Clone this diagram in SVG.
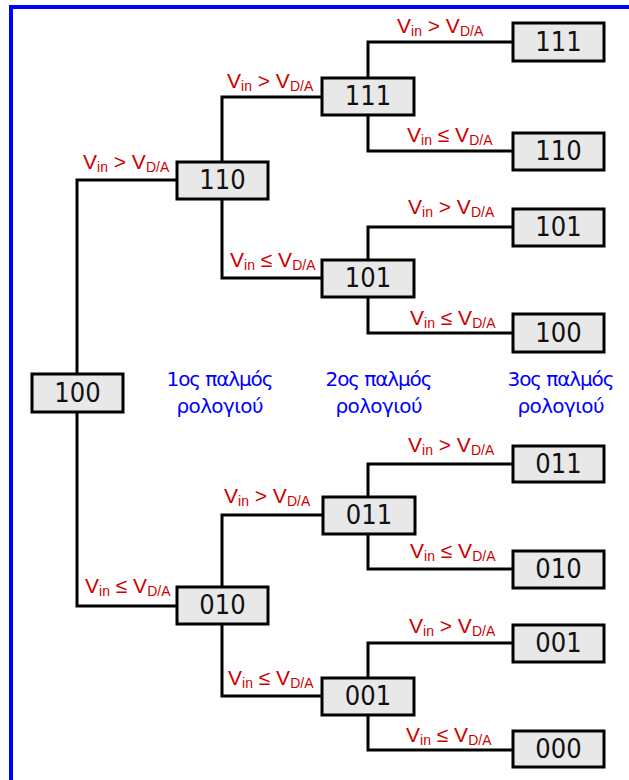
<svg xmlns="http://www.w3.org/2000/svg" width="629" height="780" viewBox="0 0 629 780">
<style>
.frame{fill:none;stroke:#0000ff;stroke-width:4}
.wire{fill:none;stroke:#000;stroke-width:3;stroke-linejoin:miter}
.box{fill:#e8e8e8;stroke:#000;stroke-width:3}
.num{font-family:"DejaVu Sans Condensed","DejaVu Sans","Liberation Sans",sans-serif;font-size:27px;fill:#111;text-anchor:middle}
.lbl{font-family:"Liberation Sans",Arial,sans-serif;font-size:21px;fill:#cc0000}
.sub{font-size:14px}
.clk{font-family:"DejaVu Sans","Liberation Sans",sans-serif;font-size:20px;fill:#0000ff;text-anchor:middle}
</style>
<rect width="629" height="780" fill="#fff"/>
<path class="frame" d="M11,782 V7 H631"/>
<g id="connectors">
<path class="wire" d="M177,180 H77 V606 H177"/>
<path class="wire" d="M322,97 H222 V278 H322"/>
<path class="wire" d="M322,515 H222 V696 H322"/>
<path class="wire" d="M513,42 H368 V151 H513"/>
<path class="wire" d="M513,227 H368 V333 H513"/>
<path class="wire" d="M513,464 H368 V569 H513"/>
<path class="wire" d="M513,643 H368 V750 H513"/>
</g>
<g id="labels">
<text class="lbl" x="83" y="169">V<tspan class="sub" dy="3">in</tspan><tspan dy="-3"> &gt; V</tspan><tspan class="sub" dy="3">D/A</tspan></text>
<text class="lbl" x="227" y="88">V<tspan class="sub" dy="3">in</tspan><tspan dy="-3"> &gt; V</tspan><tspan class="sub" dy="3">D/A</tspan></text>
<text class="lbl" x="397" y="33">V<tspan class="sub" dy="3">in</tspan><tspan dy="-3"> &gt; V</tspan><tspan class="sub" dy="3">D/A</tspan></text>
<text class="lbl" x="407" y="142">V<tspan class="sub" dy="3">in</tspan><tspan dy="-3"> ≤ V</tspan><tspan class="sub" dy="3">D/A</tspan></text>
<text class="lbl" x="230" y="267">V<tspan class="sub" dy="3">in</tspan><tspan dy="-3"> ≤ V</tspan><tspan class="sub" dy="3">D/A</tspan></text>
<text class="lbl" x="408" y="214">V<tspan class="sub" dy="3">in</tspan><tspan dy="-3"> &gt; V</tspan><tspan class="sub" dy="3">D/A</tspan></text>
<text class="lbl" x="410" y="325">V<tspan class="sub" dy="3">in</tspan><tspan dy="-3"> ≤ V</tspan><tspan class="sub" dy="3">D/A</tspan></text>
<text class="lbl" x="408" y="452">V<tspan class="sub" dy="3">in</tspan><tspan dy="-3"> &gt; V</tspan><tspan class="sub" dy="3">D/A</tspan></text>
<text class="lbl" x="224" y="503">V<tspan class="sub" dy="3">in</tspan><tspan dy="-3"> &gt; V</tspan><tspan class="sub" dy="3">D/A</tspan></text>
<text class="lbl" x="410" y="558">V<tspan class="sub" dy="3">in</tspan><tspan dy="-3"> ≤ V</tspan><tspan class="sub" dy="3">D/A</tspan></text>
<text class="lbl" x="85" y="593">V<tspan class="sub" dy="3">in</tspan><tspan dy="-3"> ≤ V</tspan><tspan class="sub" dy="3">D/A</tspan></text>
<text class="lbl" x="409" y="633">V<tspan class="sub" dy="3">in</tspan><tspan dy="-3"> &gt; V</tspan><tspan class="sub" dy="3">D/A</tspan></text>
<text class="lbl" x="228" y="685">V<tspan class="sub" dy="3">in</tspan><tspan dy="-3"> ≤ V</tspan><tspan class="sub" dy="3">D/A</tspan></text>
<text class="lbl" x="406" y="742">V<tspan class="sub" dy="3">in</tspan><tspan dy="-3"> ≤ V</tspan><tspan class="sub" dy="3">D/A</tspan></text>
</g>
<g id="clock-labels">
<text class="clk" x="220" y="386" textLength="107">1ος παλμός</text>
<text class="clk" x="220" y="413" textLength="87">ρολογιού</text>
<text class="clk" x="379" y="386" textLength="107">2ος παλμός</text>
<text class="clk" x="379" y="413" textLength="87">ρολογιού</text>
<text class="clk" x="561" y="386" textLength="107">3ος παλμός</text>
<text class="clk" x="561" y="413" textLength="87">ρολογιού</text>
</g>
<g id="n100"><rect class="box" x="32" y="374" width="91" height="38"/><text class="num" x="77.5" y="402">100</text></g>
<g id="n110"><rect class="box" x="177" y="162" width="91" height="37"/><text class="num" x="222.5" y="189">110</text></g>
<g id="n010"><rect class="box" x="177" y="587" width="91" height="37"/><text class="num" x="222.5" y="614">010</text></g>
<g id="n111b"><rect class="box" x="322" y="78" width="92" height="37"/><text class="num" x="368" y="105">111</text></g>
<g id="n101b"><rect class="box" x="322" y="260" width="92" height="37"/><text class="num" x="368" y="287">101</text></g>
<g id="n011b"><rect class="box" x="323" y="497" width="92" height="37"/><text class="num" x="369" y="524">011</text></g>
<g id="n001b"><rect class="box" x="322" y="678" width="92" height="37"/><text class="num" x="368" y="705">001</text></g>
<g id="leaf111"><rect class="box" x="513" y="23" width="91" height="38"/><text class="num" x="558.5" y="51">111</text></g>
<g id="leaf110"><rect class="box" x="513" y="133" width="91" height="37"/><text class="num" x="558.5" y="160">110</text></g>
<g id="leaf101"><rect class="box" x="513" y="209" width="91" height="37"/><text class="num" x="558.5" y="236">101</text></g>
<g id="leaf100"><rect class="box" x="513" y="314" width="91" height="38"/><text class="num" x="558.5" y="342">100</text></g>
<g id="leaf011"><rect class="box" x="513" y="446" width="91" height="36"/><text class="num" x="558.5" y="473">011</text></g>
<g id="leaf010"><rect class="box" x="513" y="551" width="91" height="37"/><text class="num" x="558.5" y="578">010</text></g>
<g id="leaf001"><rect class="box" x="513" y="625" width="91" height="37"/><text class="num" x="558.5" y="652">001</text></g>
<g id="leaf000"><rect class="box" x="513" y="731" width="91" height="36"/><text class="num" x="558.5" y="758">000</text></g>
</svg>
